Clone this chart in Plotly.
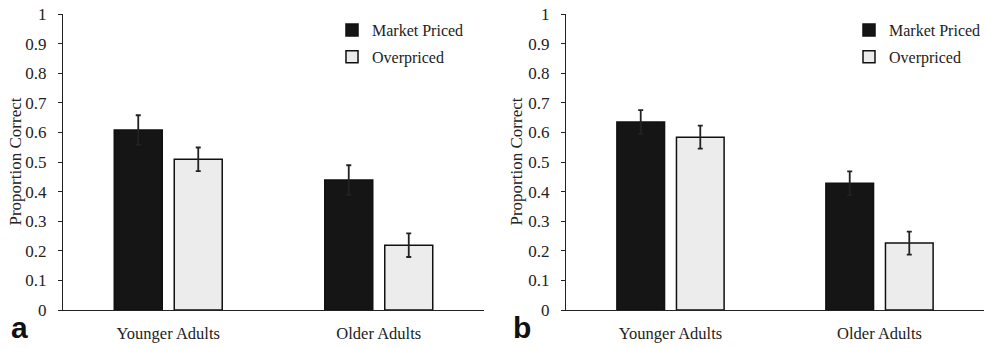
import plotly.graph_objects as go

categories = ["Younger Adults", "Older Adults"]
series_names = ["Market Priced", "Overpriced"]

a_market = [0.608, 0.439]
a_market_err = [0.05, 0.05]
a_over = [0.509, 0.219]
a_over_err = [0.04, 0.04]

b_market = [0.635, 0.428]
b_market_err = [0.04, 0.04]
b_over = [0.584, 0.226]
b_over_err = [0.039, 0.039]

y_ticks = [0, 0.1, 0.2, 0.3, 0.4, 0.5, 0.6, 0.7, 0.8, 0.9, 1]
y_ticktext = ["0", "0.1", "0.2", "0.3", "0.4", "0.5", "0.6", "0.7", "0.8", "0.9", "1"]
y_title = "Proportion Correct"

FONT = "Liberation Serif"
DARK = "#151515"
LIGHT = "#ececec"
INK = "#222222"

fig = go.Figure()

panels = [
    ("x", "y", "legend", a_market, a_market_err, a_over, a_over_err),
    ("x2", "y2", "legend2", b_market, b_market_err, b_over, b_over_err),
]
for xa, ya, lg, m, me, o, oe in panels:
    fig.add_trace(go.Bar(
        x=categories, y=m, name=series_names[0], xaxis=xa, yaxis=ya,
        legend=lg, legendgroup=lg + "m",
        marker=dict(color=DARK, line=dict(color="#111111", width=1.5)),
        error_y=dict(type="data", array=me, visible=True, color=INK,
                     thickness=1.8, width=2.5),
    ))
    fig.add_trace(go.Bar(
        x=categories, y=o, name=series_names[1], xaxis=xa, yaxis=ya,
        legend=lg, legendgroup=lg + "o",
        marker=dict(color=LIGHT, line=dict(color="#111111", width=1.5)),
        error_y=dict(type="data", array=oe, visible=True, color=INK,
                     thickness=1.8, width=2.5),
    ))

W, H = 987, 348
axis_common = dict(showline=True, linecolor=INK, linewidth=1.2,
                   showgrid=False, zeroline=False, automargin=False)

yaxis_common = dict(axis_common, range=[0, 1], tickvals=y_ticks, ticktext=y_ticktext,
                    ticks="outside", ticklen=4, tickcolor=INK, tickwidth=1.2,
                    ticklabelstandoff=8,
                    tickfont=dict(family=FONT, size=17, color=INK))
xaxis_common = dict(axis_common, ticks="", ticklabelstandoff=8,
                    tickfont=dict(family=FONT, size=16.5, color=INK))

legend_common = dict(font=dict(family=FONT, size=16, color=INK),
                     bgcolor="rgba(0,0,0,0)", traceorder="grouped",
                     tracegroupgap=3, xanchor="left", yanchor="top",
                     itemclick=False, itemdoubleclick=False)

title_font = dict(family=FONT, size=17, color=INK)
panel_font = dict(family="Liberation Sans", size=30, color="#111111")

fig.update_layout(
    width=W, height=H,
    template="none",
    paper_bgcolor="white", plot_bgcolor="white",
    margin=dict(l=0, r=0, t=14, b=38, autoexpand=False),
    barmode="group", bargap=0.43, bargroupgap=0.2,
    showlegend=True,
    xaxis=dict(xaxis_common, domain=[63 / W, 484 / W], anchor="y"),
    yaxis=dict(yaxis_common, anchor="x"),
    xaxis2=dict(xaxis_common, domain=[566 / W, 984 / W], anchor="y2"),
    yaxis2=dict(yaxis_common, anchor="x2"),
    legend=dict(legend_common, x=332 / W, y=1.003),
    legend2=dict(legend_common, x=849 / W, y=1.003),
    annotations=[
        dict(text=y_title, x=14.5 / W, y=0.5, xref="paper", yref="paper",
             textangle=-90, xanchor="center", yanchor="middle", showarrow=False,
             font=title_font),
        dict(text=y_title, x=515.5 / W, y=0.5, xref="paper", yref="paper",
             textangle=-90, xanchor="center", yanchor="middle", showarrow=False,
             font=title_font),
        dict(text="<b>a</b>", x=19 / W, y=0, xref="paper", yref="paper",
             xanchor="center", yanchor="bottom", yshift=-36, showarrow=False,
             font=panel_font),
        dict(text="<b>b</b>", x=522 / W, y=0, xref="paper", yref="paper",
             xanchor="center", yanchor="bottom", yshift=-36, showarrow=False,
             font=panel_font),
    ],
)

fig.write_html("out.html", config={"displayModeBar": False},
               post_script="document.body.style.margin='0';")
